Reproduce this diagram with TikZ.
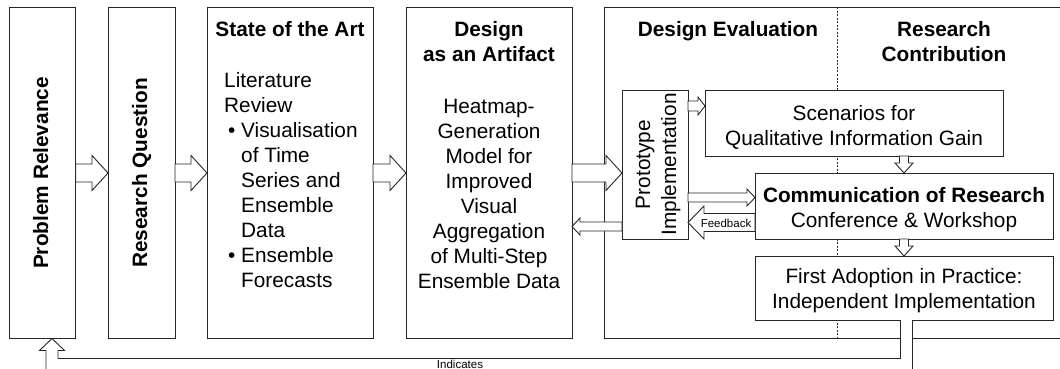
\documentclass[tikz,border=0pt]{standalone}
\usepackage{fontspec}
\setmainfont{Liberation Sans}
\usetikzlibrary{calc}

% hollow block arrows: #1 tail, #2 tip, #3 shaft half-width, #4 head half-width, #5 head length
\newcommand\fatright[5]{\draw[hollow] let \p1=(#1), \p2=(#2) in
  (\x1,\y2+#3) -- (\x2-#5,\y2+#3) -- (\x2-#5,\y2+#4) -- (\x2,\y2) -- (\x2-#5,\y2-#4) -- (\x2-#5,\y2-#3) -- (\x1,\y2-#3) -- cycle;}
\newcommand\fatleft[5]{\draw[hollow] let \p1=(#1), \p2=(#2) in
  (\x1,\y2+#3) -- (\x2+#5,\y2+#3) -- (\x2+#5,\y2+#4) -- (\x2,\y2) -- (\x2+#5,\y2-#4) -- (\x2+#5,\y2-#3) -- (\x1,\y2-#3) -- cycle;}
\newcommand\fatdown[5]{\draw[hollow] let \p1=(#1), \p2=(#2) in
  (\x2+#3,\y1) -- (\x2+#3,\y2+#5) -- (\x2+#4,\y2+#5) -- (\x2,\y2) -- (\x2-#4,\y2+#5) -- (\x2-#3,\y2+#5) -- (\x2-#3,\y1) -- cycle;}

\tikzset{
  box/.style={draw=black!85, line width=0.9pt, fill=white, inner sep=0pt, outer sep=0pt},
  frame/.style={draw=black!85, line width=0.9pt, inner sep=0pt, outer sep=0pt},
  hollow/.style={draw=black!85, line width=0.9pt, fill=white, line join=miter},
  divider/.style={draw=black!85, line width=0.7pt, dash pattern=on 2pt off 1.5pt},
  txt/.style={inner sep=0pt, font=\fontsize{20.8}{25}\selectfont},
  btxt/.style={inner sep=0pt, font=\fontsize{20.8}{25}\selectfont\bfseries},
  small/.style={inner sep=0pt, font=\fontsize{11.5}{13}\selectfont},
}

\begin{document}
\begin{tikzpicture}[x=1pt, y=-1pt]
\useasboundingbox (0,0) rectangle (1060,369);
\clip (0,0) rectangle (1060,369);

% evaluation / contribution frame and its divider
\node[frame, minimum width=466pt, minimum height=331pt] (outer) at (837,173) {};
\draw[divider] (outer.north) -- (outer.south);

% main stages
\node[box, minimum width=66.5pt, minimum height=331pt] (b1) at (42.5,173) {};
\node[box, minimum width=67pt, minimum height=331pt] (b2) at (141.5,173) {};
\node[box, minimum width=166pt, minimum height=331pt] (b3) at (290,173) {};
\node[box, minimum width=166pt, minimum height=331pt] (b4) at (489,173) {};

% evaluation and contribution boxes
\node[box, minimum width=66pt, minimum height=149pt] (proto) at (655,164.5) {};
\node[box, minimum width=298pt, minimum height=66pt] (scen) at (854,123) {};
\node[box, minimum width=298pt, minimum height=66pt] (comm) at (904,206) {};
\node[box, minimum width=298pt, minimum height=64pt] (first) at (904,288) {};

% texts
\node[btxt, rotate=90, anchor=base] (l1) at (48,173) {Problem Relevance};
\node[btxt, rotate=90, anchor=base] (l2) at (147,173) {Research Question};
\node[btxt, anchor=base] (t3) at (290,37) {State of the Art};
\node[txt, anchor=base west, align=left] (l3) at (224,287)
  {Literature\\Review\\\hspace*{4pt}\makebox[13pt][l]{•}Visualisation\\\hspace*{17pt}of Time\\\hspace*{17pt}Series and\\\hspace*{17pt}Ensemble\\\hspace*{17pt}Data\\\hspace*{4pt}\makebox[13pt][l]{•}Ensemble\\\hspace*{17pt}Forecasts};
\node[btxt, anchor=base, align=center] (t4) at (489,62) {Design\\as an Artifact};
\node[txt, anchor=base, align=center] (l4) at (489,288)
  {Heatmap-\\Generation\\Model for\\Improved\\Visual\\Aggregation\\of Multi-Step\\Ensemble Data};
\node[btxt, anchor=base] (t5) at (728,37) {Design Evaluation};
\node[btxt, anchor=base, align=center] (t6) at (944,62) {Research\\Contribution};
\node[txt, rotate=90, anchor=base, align=center, font=\fontsize{20.8}{26}\selectfont] (lp) at (676,164.5) {Prototype\\Implementation};
\node[txt, anchor=base, align=center] (ls) at (854,145) {Scenarios for\\Qualitative Information Gain};
\node[txt, anchor=base, align=center] (lc) at (904,227) {\textbf{Communication of Research}\\Conference \& Workshop};
\node[txt, anchor=base, align=center] (lf) at (904,308) {First Adoption in Practice:\\Independent Implementation};

% flow between stages
\fatright{b1.east}{b2.west}{9pt}{17.5pt}{16pt}
\fatright{b2.east}{b3.west}{9pt}{17.5pt}{16pt}
\fatright{b3.east}{b4.west}{9pt}{17.5pt}{16pt}
\fatright{b4.east}{proto.west |- b4.east}{9pt}{17.5pt}{16pt}
\fatleft{$(proto.west)+(0,62)$}{$(b4.east |- proto.west)+(0,62)$}{4.5pt}{8.5pt}{8pt}

% evaluation loop
\fatright{$(proto.east |- scen.west)+(0,-17)$}{$(scen.west)+(0,-17)$}{5pt}{9pt}{7pt}
\fatright{$(proto.east |- comm.west)+(0,-8.5)$}{$(comm.west)+(0,-8.5)$}{4.5pt}{8.5pt}{8pt}
\fatleft{$(comm.west)+(0,16.5)$}{$(proto.east |- comm.west)+(0,16.5)$}{9pt}{16.5pt}{16pt}
\path ($(comm.west)+(0,17)$) -- ($(proto.east |- comm.west)+(0,17)$)
  node[small, midway, xshift=4.5pt] (fb) {Feedback};
\fatdown{comm.north |- scen.south}{comm.north}{4.5pt}{9pt}{10pt}
\fatdown{comm.south}{first.north}{4.5pt}{9pt}{10pt}

% return arrow to the problem relevance
\draw[hollow] let \p1=($(first.south)+(2.5,0)$), \p2=($(b1.south)+(9.5,0)$) in
  (\x1-6pt,\y1) -- (\x1-6pt,\y2-20pt) -- (\x2+6pt,\y2-20pt) -- (\x2+6pt,\y2-12pt)
  -- (\x2+12.5pt,\y2-12pt) -- (\x2,\y2) -- (\x2-12.5pt,\y2-12pt) -- (\x2-6pt,\y2-12pt)
  -- (\x2-6pt,\y2-32pt) -- (\x1+6pt,\y2-32pt) -- (\x1+6pt,\y1);
\node[small] (ind) at (460,364.5) {Indicates};
\end{tikzpicture}
\end{document}
